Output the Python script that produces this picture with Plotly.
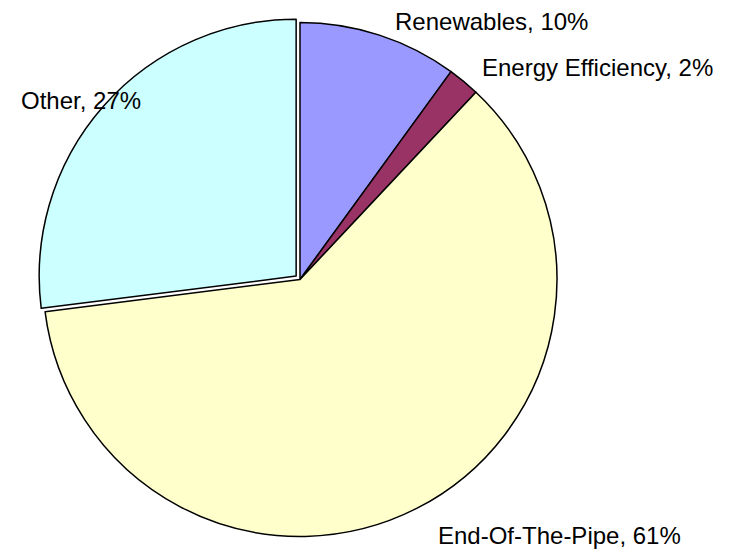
import plotly.graph_objects as go

# Data
categories = ["Renewables", "Energy Efficiency", "End-Of-The-Pipe", "Other"]
values = [10, 2, 61, 27]
colors = ["#9999FF", "#993366", "#FFFFCC", "#CCFFFF"]
pulls = [0, 0, 0, 0.02]

# Window 733x550; the page body margin is removed so the figure fills the window
W, H = 733, 550

# Label centres in window pixels (same order as categories)
label_px = [(491, 21), (597, 67), (559, 535), (81, 100)]


def to_paper(px, py):
    return px / W, 1 - py / H


# Pie centre / half-size in window pixels -> domain
cx, cy, half = 300, 279.5, 262.1
x0, y1 = to_paper(cx - half, cy - half)
x1, y0 = to_paper(cx + half, cy + half)

fig = go.Figure(
    go.Pie(
        labels=categories,
        values=values,
        sort=False,
        direction="clockwise",
        rotation=0,
        pull=pulls,
        marker=dict(colors=colors, line=dict(color="#000000", width=1.5)),
        textinfo="none",
        hoverinfo="label+percent",
        showlegend=False,
        domain=dict(x=[max(0, x0), min(1, x1)], y=[max(0, y0), min(1, y1)]),
    )
)

annotations = []
total = sum(values)
for cat, val, (px, py) in zip(categories, values, label_px):
    pct = round(100 * val / total)
    ax, ay = to_paper(px, py)
    annotations.append(
        dict(
            text=f"{cat}, {pct}%",
            x=ax,
            y=ay,
            xref="paper",
            yref="paper",
            xanchor="center",
            yanchor="middle",
            showarrow=False,
            font=dict(family="Arial, Liberation Sans, sans-serif", size=24, color="#000000"),
        )
    )

fig.update_layout(
    width=W,
    height=H,
    margin=dict(l=0, r=0, t=0, b=0),
    paper_bgcolor="#FFFFFF",
    plot_bgcolor="#FFFFFF",
    annotations=annotations,
)

fig.write_html(
    "out.html",
    config={"displayModeBar": False},
    post_script="document.body.style.margin='0px';document.body.style.overflow='hidden';",
)
